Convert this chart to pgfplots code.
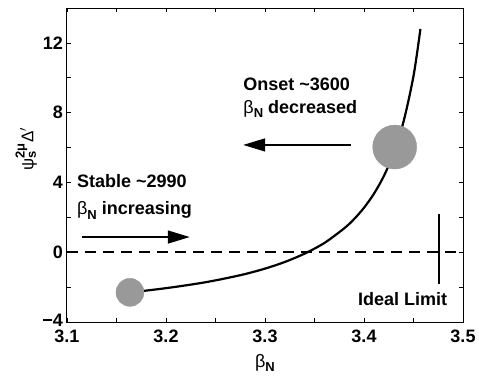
\documentclass[border=0pt]{standalone}
\usepackage{fontspec}
\setmainfont{Liberation Sans}
\usepackage{pgfplots}
\pgfplotsset{compat=1.18}
\usetikzlibrary{arrows.meta}
\newcommand{\bN}{{\mdseries β}\raisebox{-0.45ex}{\fontsize{13}{14}\selectfont N}}
\begin{document}
\fontsize{18}{21}\selectfont\bfseries
\begin{tikzpicture}
\begin{axis}[
  scale only axis, width=396pt, height=314pt,
  xmin=3.1, xmax=3.5, ymin=-4, ymax=14,
  xtick={3.1,3.2,3.3,3.4,3.5},
  xticklabels={3.1,3.2,3.3,3.4,3.5},
  ytick={-4,0,4,8,12},
  yticklabels={\raisebox{4pt}{−4},0,4,8,12},
  minor xtick={3.15,3.25,3.35,3.45},
  minor ytick={-2,2,6,10},
  tick align=inside,
  major tick length=4pt, minor tick length=4pt,
  tick style={line width=0.7pt, black},
  axis line style={line width=1pt},
  /pgf/number format/assume math mode=true,
  xticklabel style={inner sep=1pt, yshift=-7pt},
  yticklabel style={inner sep=1pt, xshift=-3pt},
  xlabel={\bN},
  xlabel style={at={(axis description cs:0.5,0)}, anchor=north, inner sep=0pt, yshift=-32pt},
  ylabel={\fontsize{17}{18}\selectfont\mdseries ψ$^{\mbox{\fontsize{13}{14}\selectfont\bfseries 2μ}}_{\mbox{\fontsize{13}{14}\selectfont\bfseries s}}$Δ$'$},
  ylabel style={at={(axis description cs:0,0.55)}, anchor=south, inner sep=0pt, yshift=30pt},
  clip=false,
]
% dashed zero line
\addplot[black, line width=1.7pt, dash pattern=on 11pt off 7pt] coordinates {(3.1,0) (3.5,0)};
% ideal limit marker
\addplot[black, line width=1.8pt] coordinates {(3.4758,2.2) (3.4758,-1.85)};
% gray circles
\addplot[only marks, mark=*, mark size=14pt, color=black!40, mark options={draw=none}] coordinates {(3.1636,-2.3)};
\addplot[only marks, mark=*, mark size=22pt, color=black!40, mark options={draw=none}] coordinates {(3.431,6.03)};
% main curve
\addplot[black, line width=2.2pt, smooth] coordinates {
(3.164,-2.30) (3.18,-2.20) (3.20,-2.06) (3.22,-1.90) (3.24,-1.72) (3.26,-1.50)
(3.28,-1.25) (3.30,-0.94) (3.32,-0.56) (3.34,-0.08) (3.36,0.53) (3.38,1.37)
(3.39,1.90) (3.40,2.55) (3.41,3.35) (3.42,4.36) (3.43,5.69) (3.44,7.50)
(3.45,10.10) (3.457,12.8)};
% arrows
\draw[line width=1.5pt, -{Triangle[length=22pt,width=13pt]}] (axis cs:3.387,6.15) -- (axis cs:3.278,6.15);
\draw[line width=1.5pt, -{Triangle[length=22pt,width=13pt]}] (axis cs:3.115,0.87) -- (axis cs:3.224,0.87);
% texts
\node[anchor=west, inner sep=0pt] at (axis cs:3.278,9.6) {Onset \textasciitilde3600};
\node[anchor=west, inner sep=0pt] at (axis cs:3.278,8.2) {\bN\ decreased};
\node[anchor=west, inner sep=0pt] at (axis cs:3.110,4.08) {Stable \textasciitilde2990};
\node[anchor=west, inner sep=0pt] at (axis cs:3.110,2.4) {\bN\ increasing};
\node[anchor=center, inner sep=0pt] at (axis cs:3.439,-2.7) {Ideal Limit};
\end{axis}
\pgfresetboundingbox
\path (current axis.south west) ++(-67pt,-53pt) rectangle ++(479pt,375pt);
\end{tikzpicture}
\end{document}
